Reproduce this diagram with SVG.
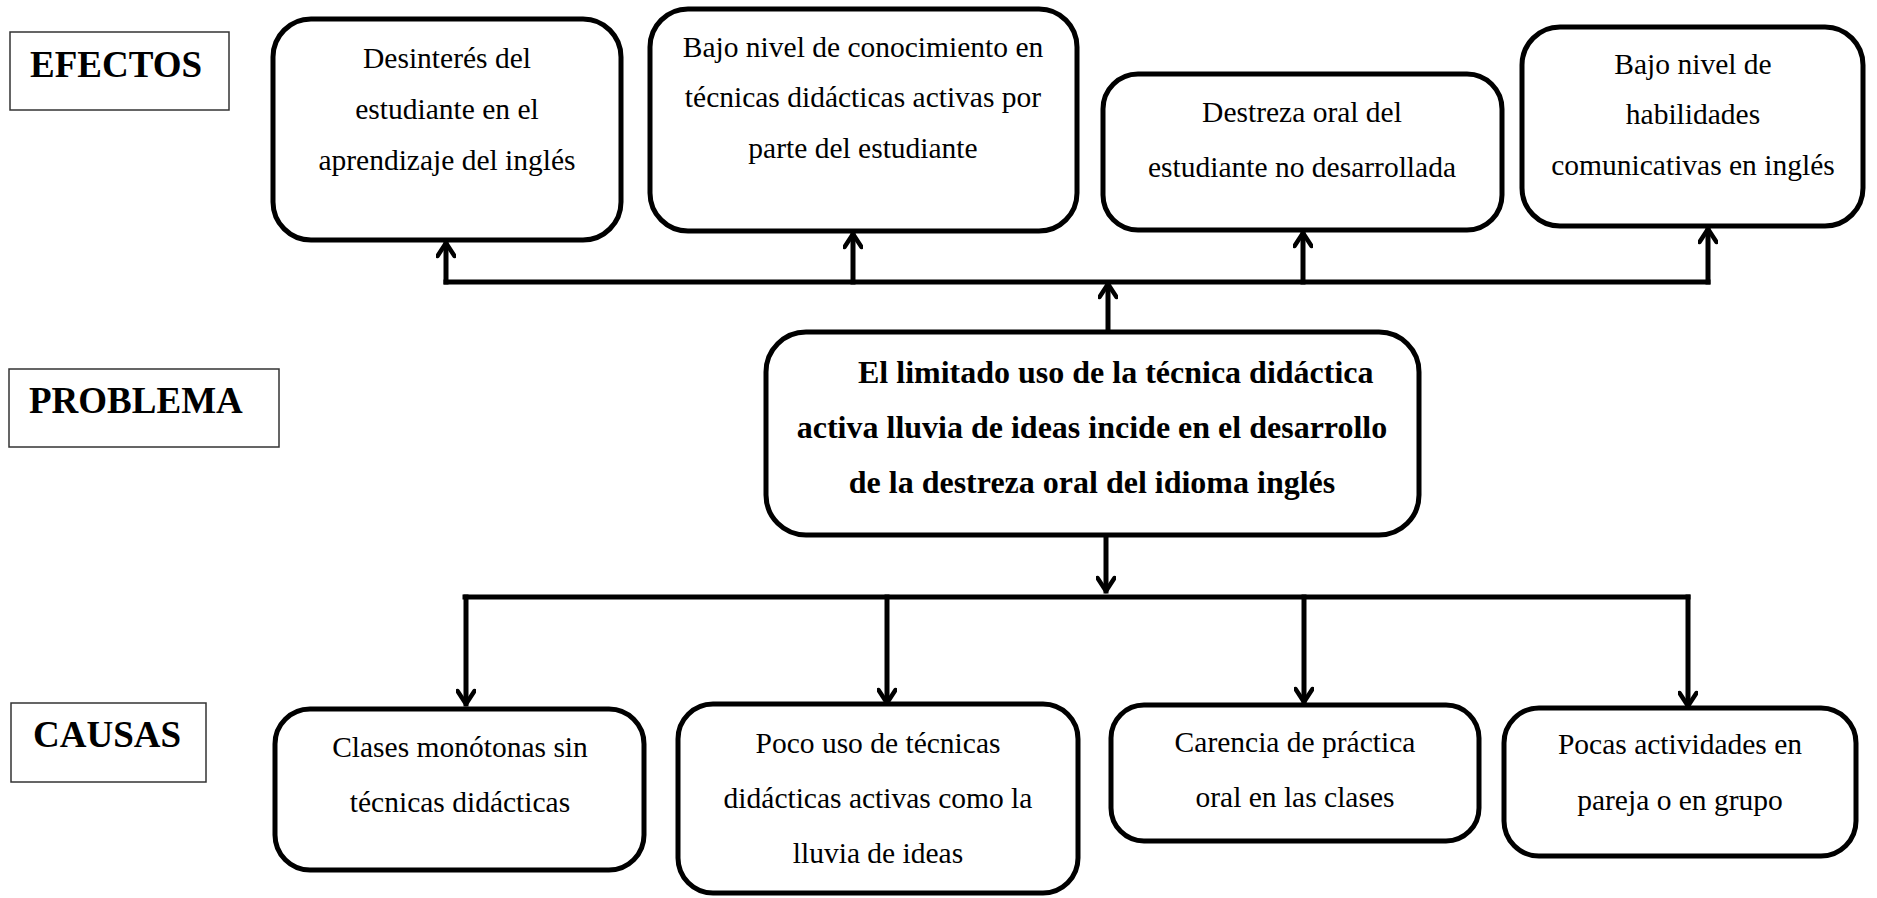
<svg xmlns="http://www.w3.org/2000/svg" width="1877" height="898" viewBox="0 0 1877 898">
<defs>
<marker id="arr" viewBox="0 0 20 20" refX="16" refY="10" markerWidth="20" markerHeight="20" markerUnits="userSpaceOnUse" orient="auto">
<path d="M3,1.5 L16,10 L3,18.5" fill="none" stroke="#000" stroke-width="4.5" stroke-linecap="round" stroke-linejoin="round"/>
</marker>
</defs>
<rect width="1877" height="898" fill="#fff"/>

<g font-family="Liberation Serif" font-size="37" font-weight="bold">
<g id="label-efectos">
<rect x="10" y="32" width="219" height="78" fill="#fff" stroke="#333" stroke-width="1.5"/>
<text x="30" y="77">EFECTOS</text>
</g>
<g id="label-problema">
<rect x="9" y="369" width="270" height="78" fill="#fff" stroke="#333" stroke-width="1.5"/>
<text x="29" y="413">PROBLEMA</text>
</g>
<g id="label-causas">
<rect x="11" y="703" width="195" height="79" fill="#fff" stroke="#333" stroke-width="1.5"/>
<text x="33" y="747">CAUSAS</text>
</g>
</g>

<g id="connectors" fill="none" stroke="#000" stroke-width="5" stroke-linecap="square">
<path d="M446,282 H1708"/>
<path d="M446,282 V243" marker-end="url(#arr)"/>
<path d="M853,282 V234" marker-end="url(#arr)"/>
<path d="M1303,282 V233" marker-end="url(#arr)"/>
<path d="M1708,282 V229" marker-end="url(#arr)"/>
<path d="M1108,330 V284" marker-end="url(#arr)"/>
<path d="M1106,537 V591" marker-end="url(#arr)"/>
<path d="M465,597 H1688"/>
<path d="M466,597 V704" marker-end="url(#arr)"/>
<path d="M887,597 V703" marker-end="url(#arr)"/>
<path d="M1304,597 V702" marker-end="url(#arr)"/>
<path d="M1688,597 V706" marker-end="url(#arr)"/>
</g>

<g font-family="Liberation Serif" font-size="29.5" text-anchor="middle">
<g id="effect-1">
<rect x="273" y="19" width="348" height="221" rx="38" fill="#fff" stroke="#000" stroke-width="5"/>
<text x="447" y="68">Desinterés del</text>
<text x="447" y="119">estudiante en el</text>
<text x="447" y="170">aprendizaje del inglés</text>
</g>
<g id="effect-2">
<rect x="650" y="9" width="427" height="222" rx="38" fill="#fff" stroke="#000" stroke-width="5"/>
<text x="863" y="57">Bajo nivel de conocimiento en</text>
<text x="863" y="107">técnicas didácticas activas por</text>
<text x="863" y="158">parte del estudiante</text>
</g>
<g id="effect-3">
<rect x="1103" y="74" width="399" height="156" rx="35" fill="#fff" stroke="#000" stroke-width="5"/>
<text x="1302" y="122">Destreza oral del</text>
<text x="1302" y="177">estudiante no desarrollada</text>
</g>
<g id="effect-4">
<rect x="1522" y="27" width="341" height="199" rx="38" fill="#fff" stroke="#000" stroke-width="5"/>
<text x="1693" y="74">Bajo nivel de</text>
<text x="1693" y="124">habilidades</text>
<text x="1693" y="175">comunicativas en inglés</text>
</g>

<g id="problem" font-size="32" font-weight="bold">
<rect x="766" y="332" width="653" height="203" rx="40" fill="#fff" stroke="#000" stroke-width="5"/>
<text x="858" y="383" text-anchor="start">El limitado uso de la técnica didáctica</text>
<text x="1092" y="438">activa lluvia de ideas incide en el desarrollo</text>
<text x="1092" y="493">de la destreza oral del idioma inglés</text>
</g>

<g id="cause-1">
<rect x="275" y="709" width="369" height="161" rx="35" fill="#fff" stroke="#000" stroke-width="5"/>
<text x="460" y="757">Clases monótonas sin</text>
<text x="460" y="812">técnicas didácticas</text>
</g>
<g id="cause-2">
<rect x="678" y="704" width="400" height="189" rx="35" fill="#fff" stroke="#000" stroke-width="5"/>
<text x="878" y="753">Poco uso de técnicas</text>
<text x="878" y="808">didácticas activas como la</text>
<text x="878" y="863">lluvia de ideas</text>
</g>
<g id="cause-3">
<rect x="1111" y="705" width="368" height="136" rx="33" fill="#fff" stroke="#000" stroke-width="5"/>
<text x="1295" y="752">Carencia de práctica</text>
<text x="1295" y="807">oral en las clases</text>
</g>
<g id="cause-4">
<rect x="1504" y="708" width="352" height="148" rx="35" fill="#fff" stroke="#000" stroke-width="5"/>
<text x="1680" y="754">Pocas actividades en</text>
<text x="1680" y="810">pareja o en grupo</text>
</g>
</g>
</svg>
